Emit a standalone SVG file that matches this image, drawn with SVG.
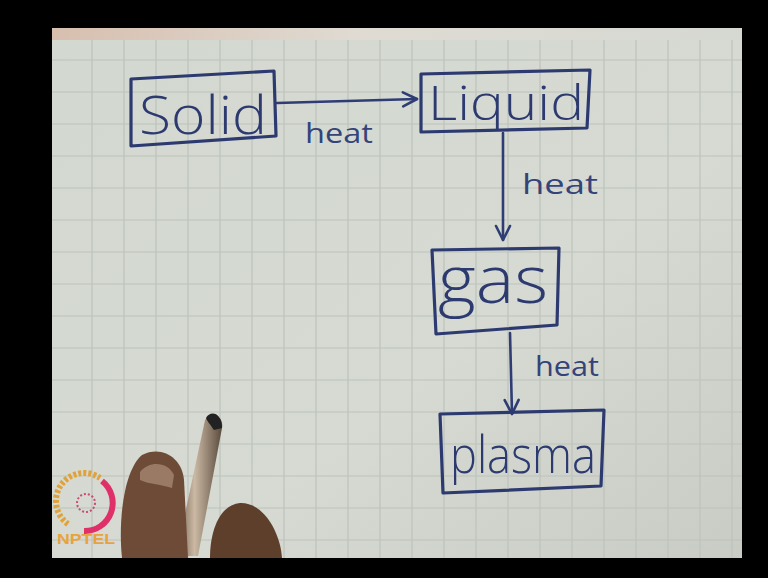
<svg xmlns="http://www.w3.org/2000/svg" width="768" height="578" viewBox="0 0 768 578">
<defs>
<style>
.box{fill:none;stroke:#2c3a70;stroke-width:3.2;stroke-linejoin:round;stroke-linecap:round}
.ink{fill:none;stroke:#2f3d74;stroke-width:2.6;stroke-linecap:round;stroke-linejoin:round}
.word{font-family:"Open Sans","DejaVu Sans","Liberation Sans",sans-serif;font-weight:300;fill:#2c3a70}
.lbl{font-family:"Open Sans","DejaVu Sans","Liberation Sans",sans-serif;font-weight:400;fill:#34437a;font-size:27px}
.grid{stroke:#bcc3bb;stroke-width:1.2}
</style>
<marker id="ah" viewBox="0 0 20 20" refX="18" refY="10" markerWidth="20" markerHeight="20" markerUnits="userSpaceOnUse" orient="auto">
<path d="M4,3 L18,10 L4,17" fill="none" stroke="#2f3d74" stroke-width="2.6" stroke-linecap="round" stroke-linejoin="round"/>
</marker>
<linearGradient id="paper" x1="0" y1="0" x2="1" y2="1">
<stop offset="0" stop-color="#d3d8d0"/>
<stop offset="0.6" stop-color="#d6dad2"/>
<stop offset="1" stop-color="#c8ccc4"/>
</linearGradient>
<linearGradient id="topstrip" x1="0" y1="0" x2="1" y2="0">
<stop offset="0" stop-color="#d9b4a0"/>
<stop offset="0.45" stop-color="#e4dcd4"/>
<stop offset="1" stop-color="#d5d8d2"/>
</linearGradient>
<linearGradient id="pen" x1="0" y1="0" x2="1" y2="0">
<stop offset="0" stop-color="#6b5a4a"/>
<stop offset="0.4" stop-color="#cbb9a4"/>
<stop offset="1" stop-color="#5a4a3c"/>
</linearGradient>
</defs>
<g id="background">
<rect x="0" y="0" width="768" height="578" fill="#000"/>
<rect x="52" y="28" width="690" height="530" fill="url(#paper)"/>
<rect x="52" y="28" width="690" height="12" fill="url(#topstrip)" opacity="0.7"/>
<g class="grid">
<path d="M92,40V558M124,40V558M156,40V558M188,40V558M220,40V558M252,40V558M284,40V558M316,40V558M348,40V558M380,40V558M412,40V558M444,40V558M476,40V558M508,40V558M540,40V558M572,40V558M604,40V558M636,40V558M668,40V558M700,40V558M732,40V558"/>
<path d="M52,60H742M52,92H742M52,124H742M52,156H742M52,188H742M52,220H742M52,252H742M52,284H742M52,316H742M52,348H742M52,380H742M52,412H742M52,444H742M52,476H742M52,508H742M52,540H742"/>
</g>
</g>
<g id="connectors">
<path class="ink" d="M277,103 L417,99" marker-end="url(#ah)"/>
<path class="ink" d="M503,133 L503,240" marker-end="url(#ah)"/>
<path class="ink" d="M510,333 L512,414" marker-end="url(#ah)"/>
<text class="lbl" x="305" y="143" textLength="68" lengthAdjust="spacingAndGlyphs">heat</text>
<text class="lbl" x="522" y="194" textLength="76" lengthAdjust="spacingAndGlyphs">heat</text>
<text class="lbl" x="535" y="376" textLength="64" lengthAdjust="spacingAndGlyphs">heat</text>
</g>
<g id="solid">
<path class="box" d="M131,79 L274,71 L276,136 L131,146 Z"/>
<text class="word" x="139" y="134" font-size="54" textLength="128" lengthAdjust="spacingAndGlyphs">Solid</text>
</g>
<g id="liquid">
<path class="box" d="M421,74 L590,70 L587,128 L421,132 Z"/>
<text class="word" x="428" y="120" font-size="48" textLength="156" lengthAdjust="spacingAndGlyphs">Liquid</text>
</g>
<g id="gas">
<path class="box" d="M432,250 L559,248 L557,325 L436,334 Z"/>
<text class="word" x="438" y="303" font-size="66" textLength="110" lengthAdjust="spacingAndGlyphs">gas</text>
</g>
<g id="plasma">
<path class="box" d="M440,414 L604,410 L601,486 L443,493 Z"/>
<text class="word" x="450" y="473" font-size="52" textLength="146" lengthAdjust="spacingAndGlyphs">plasma</text>
</g>
<g id="hand">
<path d="M205,420 C212,412 224,416 222,428 L198,556 L176,556 Z" fill="url(#pen)"/>
<path d="M206,418 C210,410 222,412 222,428 L214,430 C210,424 207,421 206,418 Z" fill="#222"/>
<path d="M122,558 C118,520 124,470 142,455 C162,445 182,458 184,480 L188,558 Z" fill="#6d4b36"/>
<path d="M140,472 C150,460 168,462 174,475 L172,488 C160,484 148,484 140,480 Z" fill="#9a7a64"/>
<path d="M210,558 C210,530 220,505 240,503 C262,502 280,530 282,558 Z" fill="#5e3f2c"/>
</g>
<g id="logo">
<path d="M68,524 A28,28 0 0 1 100,478" fill="none" stroke="#e0a23a" stroke-width="6" stroke-dasharray="3 2"/>
<path d="M102,481 A28,28 0 0 1 84,531" fill="none" stroke="#e0306a" stroke-width="6"/>
<circle cx="86" cy="503" r="9" fill="none" stroke="#d04a70" stroke-width="2" stroke-dasharray="2 2"/>
<text x="57" y="544" font-family="Liberation Sans, sans-serif" font-weight="bold" font-size="14" fill="#e8a33c" textLength="58" lengthAdjust="spacingAndGlyphs">NPTEL</text>
</g>
</svg>
